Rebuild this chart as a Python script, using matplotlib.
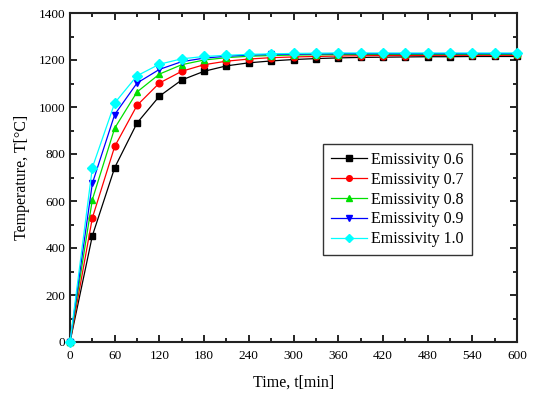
import numpy as np
import matplotlib
matplotlib.use("Agg")
import matplotlib.pyplot as plt
from matplotlib.ticker import MultipleLocator

plt.rcParams['font.family'] = ['Liberation Serif', 'DejaVu Serif']

time = np.arange(0, 601, 30)

temp_06 = [0, 452, 742, 932, 1046, 1115, 1152, 1175, 1188, 1196, 1202, 1206,
           1209, 1211, 1212, 1213, 1214, 1214, 1215, 1215, 1215]
temp_07 = [0, 528, 832, 1007, 1102, 1152, 1180, 1195, 1204, 1210, 1213, 1215,
           1217, 1218, 1219, 1219, 1220, 1220, 1220, 1220, 1220]
temp_08 = [0, 606, 910, 1064, 1140, 1180, 1200, 1210, 1216, 1219, 1221, 1222,
           1223, 1224, 1224, 1224, 1224, 1224, 1224, 1224, 1224]
temp_09 = [0, 675, 968, 1102, 1160, 1193, 1208, 1216, 1221, 1224, 1225, 1226,
           1227, 1227, 1227, 1227, 1227, 1227, 1227, 1227, 1227]
temp_10 = [0, 742, 1017, 1133, 1182, 1205, 1215, 1220, 1224, 1226, 1228, 1229,
           1230, 1230, 1230, 1230, 1230, 1230, 1230, 1230, 1230]

labels = ["Emissivity 0.6", "Emissivity 0.7", "Emissivity 0.8",
          "Emissivity 0.9", "Emissivity 1.0"]
colors = ["black", "red", "#00e000", "blue", "cyan"]
markers = ["s", "o", "^", "v", "D"]

fig = plt.figure(figsize=(5.36, 3.93), dpi=100)
ax = fig.add_axes([70/536, 1 - 342/393, 447/536, 329/393])

for temps, lab, c, m in zip([temp_06, temp_07, temp_08, temp_09, temp_10],
                            labels, colors, markers):
    ax.plot(time, temps, color=c, marker=m, markersize=4.8, linewidth=0.9,
            label=lab, clip_on=False, zorder=3)

ax.set_xlim(0, 600)
ax.set_ylim(0, 1400)
ax.xaxis.set_major_locator(MultipleLocator(60))
ax.xaxis.set_minor_locator(MultipleLocator(30))
ax.yaxis.set_major_locator(MultipleLocator(200))
ax.yaxis.set_minor_locator(MultipleLocator(100))
ax.tick_params(which='both', direction='in', top=True, right=True,
               labelsize=9.5, width=1.2)
ax.tick_params(which='major', length=5)
ax.tick_params(which='minor', length=3)
ax.tick_params(axis='x', pad=6)
for sp in ax.spines.values():
    sp.set_linewidth(1.5)
    sp.set_color('#222222')

ax.set_xlabel("Time, t[min]", fontsize=11.5, labelpad=9)
ax.set_ylabel("Temperature, T[\u00b0C]", fontsize=11.5, labelpad=6)

leg = ax.legend(loc='upper right', bbox_to_anchor=(0.899, 0.602), fontsize=11.5,
                frameon=True, fancybox=False, edgecolor='black',
                handlelength=2.3, borderaxespad=0, labelspacing=0.24,
                handletextpad=0.25, borderpad=0.5, markerscale=0.85)
leg.get_frame().set_linewidth(1.0)

fig.savefig("out.png", dpi=100)
